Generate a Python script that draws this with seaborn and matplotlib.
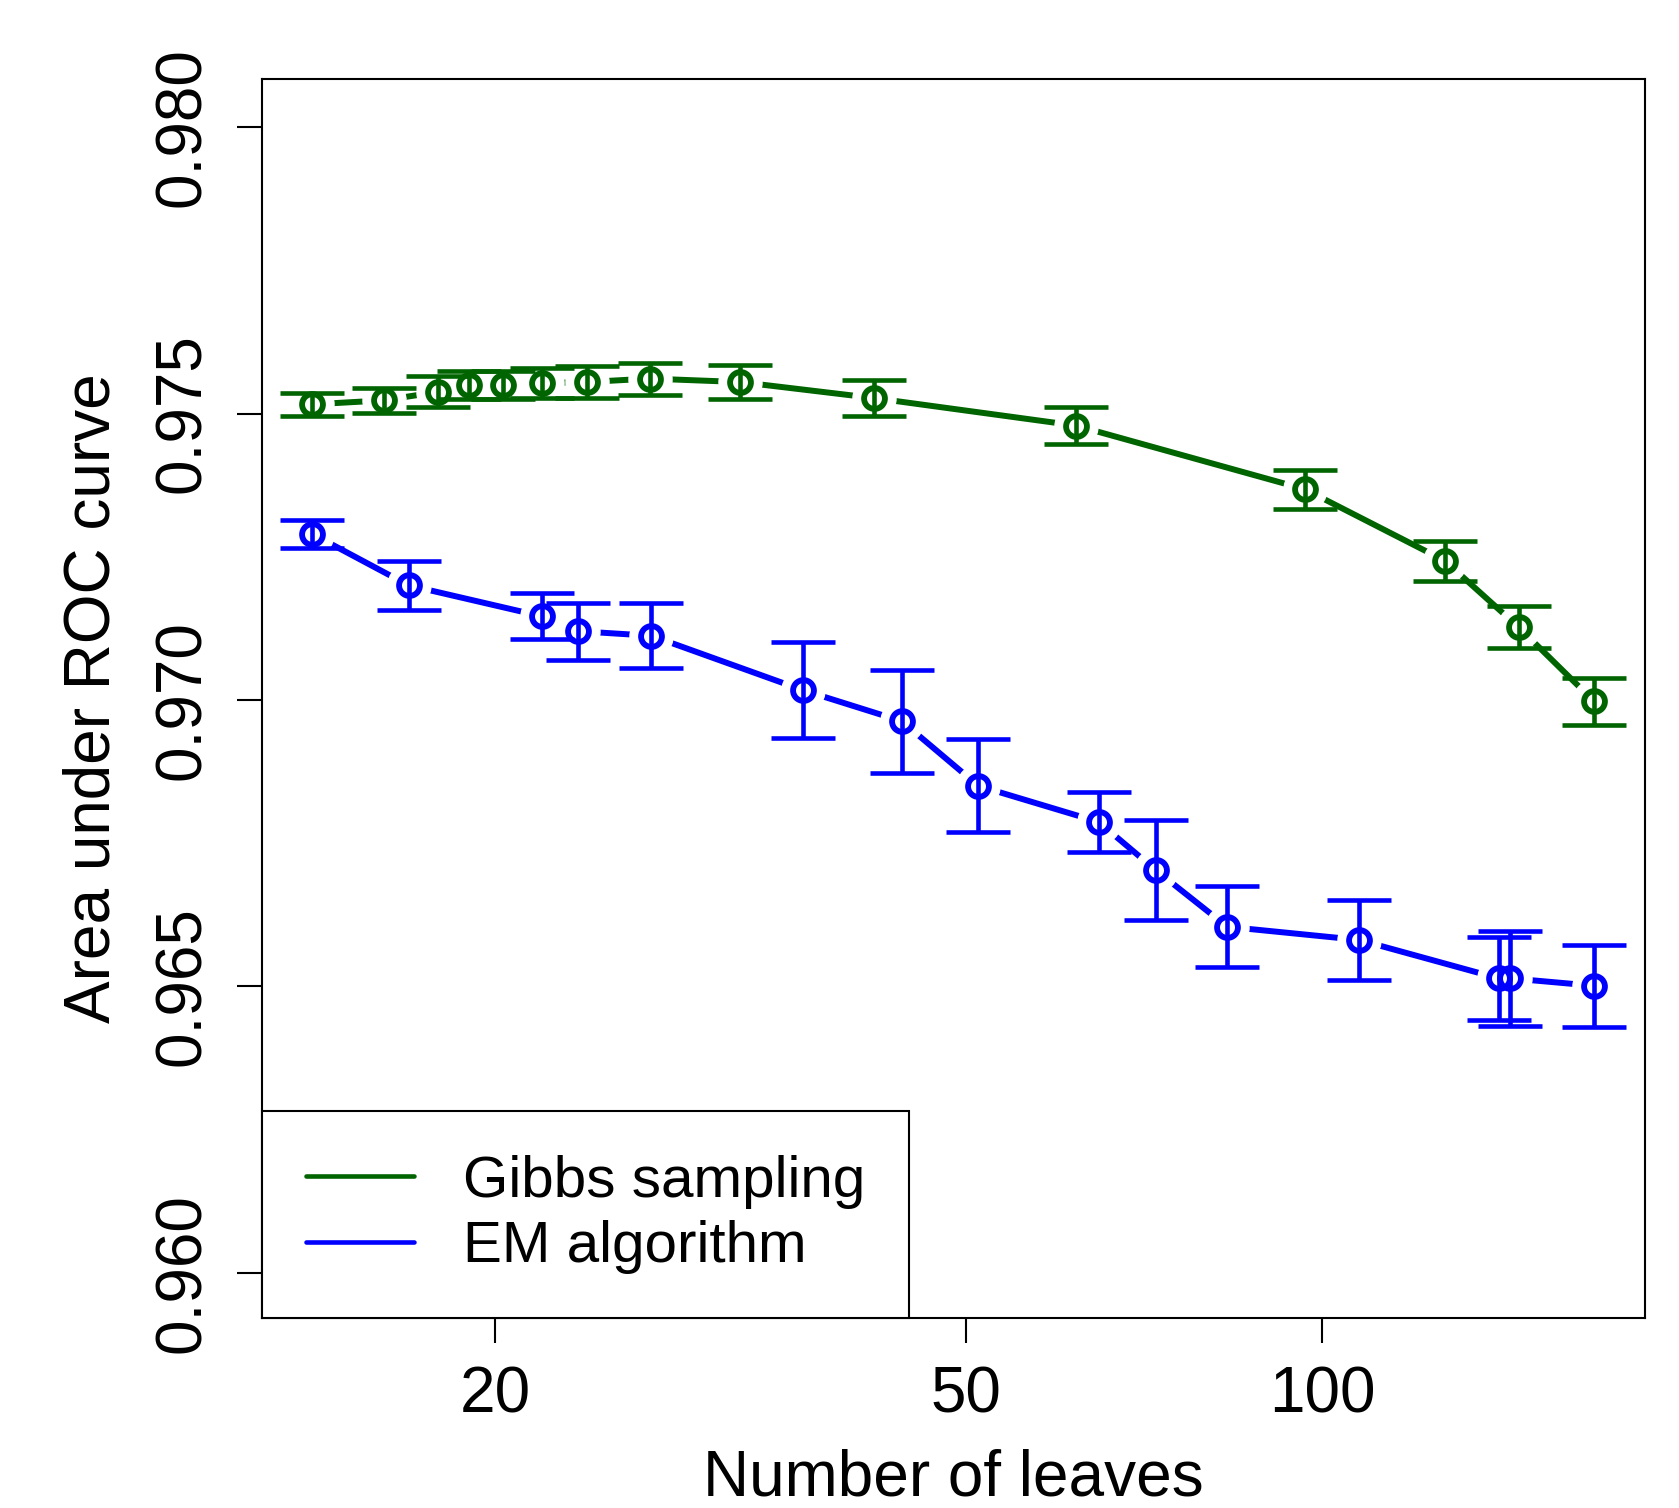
import numpy as np
import pandas as pd
import matplotlib
matplotlib.use("Agg")
import matplotlib.pyplot as plt
import seaborn as sns

# values
gibbs_leaves = [14, 16.1, 17.9, 19, 20.3, 21.9, 23.9, 27, 32.2, 41.8, 61.9, 96.6, 126.9, 146.5, 169.6]
gibbs_auc = [0.97516, 0.97523, 0.97538, 0.97550, 0.97550, 0.97553, 0.97555, 0.97561,
             0.97555, 0.97527, 0.97479, 0.97368, 0.97243, 0.97127, 0.96998]
gibbs_err = [0.00020, 0.00022, 0.00027, 0.00024, 0.00024, 0.00026, 0.00028, 0.00028,
             0.00029, 0.00031, 0.00032, 0.00034, 0.00035, 0.00037, 0.00041]

em_leaves = [14, 16.9, 21.9, 23.5, 27.1, 36.4, 44.1, 51.2, 64.7, 72.3, 83.1, 107.4, 140.9, 144.1, 169.6]
em_auc = [0.97290, 0.97200, 0.97146, 0.97120, 0.97112, 0.97017, 0.96963, 0.96850,
          0.96787, 0.96703, 0.96604, 0.96581, 0.96514, 0.96514, 0.96501]
em_err = [0.00025, 0.00043, 0.00040, 0.00050, 0.00057, 0.00084, 0.00090, 0.00081,
          0.00053, 0.00087, 0.00071, 0.00070, 0.00073, 0.00083, 0.00072]

labels = ["Gibbs sampling", "EM algorithm"]
colors = ["#006400", "#0000FF"]

df = pd.concat([
    pd.DataFrame({"leaves": gibbs_leaves, "auc": gibbs_auc, "err": gibbs_err, "method": labels[0]}),
    pd.DataFrame({"leaves": em_leaves, "auc": em_auc, "err": em_err, "method": labels[1]}),
])

sns.set_theme(style="white")
plt.rcParams["font.family"] = ["Liberation Sans", "DejaVu Sans"]
plt.rcParams["text.color"] = "black"
fs = 46

fig = plt.figure(figsize=(16.79, 15.08), dpi=100)
ax = fig.add_axes([0.156, 0.126, 0.824, 0.8216])

sns.lineplot(data=df, x="leaves", y="auc", hue="method", palette=colors,
             linewidth=4.3, estimator=None, sort=False, ax=ax, zorder=1, legend=False)

for name, col in zip(labels, colors):
    sub = df[df["method"] == name]
    # white halo gives the gap round each point (R type="b")
    ax.plot(sub["leaves"], sub["auc"], "o", ms=31, color="white", zorder=2)
    ax.errorbar(sub["leaves"], sub["auc"], yerr=sub["err"], fmt="none", ecolor=col,
                elinewidth=3.3, capsize=23, capthick=3.3, zorder=3)
    ax.plot(sub["leaves"], sub["auc"], "o", ms=15, mfc="none", mec=col, mew=4.2, zorder=4)

ax.set_xscale("log")
ax.set_xlim(12.7, 187.5)
ax.set_ylim(0.95921, 0.98084)
ax.set_xticks([20, 50, 100])
ax.set_xticklabels(["20", "50", "100"])
ax.xaxis.set_minor_locator(matplotlib.ticker.NullLocator())
ax.set_yticks([0.960, 0.965, 0.970, 0.975, 0.980])
ax.set_yticklabels(["0.960", "0.965", "0.970", "0.975", "0.980"], rotation=90, va="center")

ax.tick_params(axis="both", direction="out", length=18, width=1.5, color="black",
               labelsize=fs, labelcolor="black", left=True, bottom=True)
ax.tick_params(axis="x", pad=16)
ax.tick_params(axis="y", pad=17)
for s in ax.spines.values():
    s.set_color("black")
    s.set_linewidth(1.5)

ax.set_xlabel("Number of leaves", fontsize=fs, labelpad=17, color="black")
ax.set_ylabel("Area under ROC curve", fontsize=fs, labelpad=22, color="black")

handles = [matplotlib.lines.Line2D([], [], color=c, lw=3.3) for c in colors]
leg = ax.legend(handles, labels, loc="lower left", fontsize=42, frameon=True,
                fancybox=False, borderaxespad=0, handlelength=1.85, handletextpad=0.85,
                borderpad=0.75, labelspacing=0.2)
for t in leg.get_texts():
    t.set_color("black")
leg.get_frame().set_edgecolor("black")
leg.get_frame().set_linewidth(1.5)
leg.get_frame().set_alpha(1)

fig.savefig("out.png", dpi=100)
